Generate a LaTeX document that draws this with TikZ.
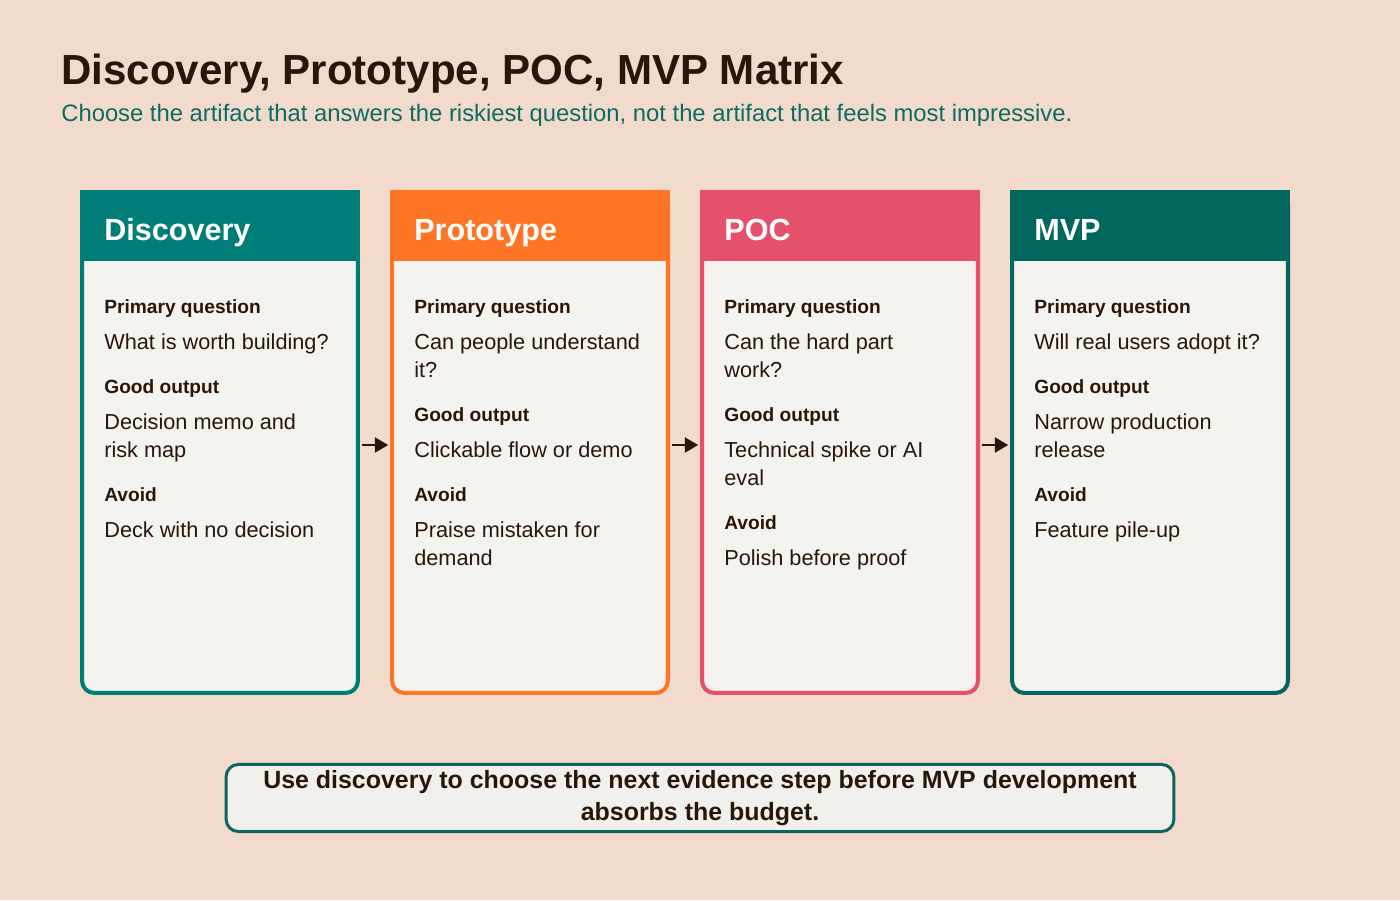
\documentclass[tikz,border=0pt]{standalone}
\usepackage{fontspec}
\setmainfont{Liberation Sans}
\usetikzlibrary{arrows.meta,positioning}
\definecolor{peach}{RGB}{242,218,205}
\definecolor{paper}{RGB}{245,243,239}
\definecolor{teal}{RGB}{0,125,118}
\definecolor{orange}{RGB}{255,117,38}
\definecolor{rose}{RGB}{229,80,106}
\definecolor{pine}{RGB}{0,102,94}
\definecolor{ink}{RGB}{42,22,8}
\definecolor{subink}{RGB}{12,108,98}
\definecolor{noteline}{RGB}{15,100,95}
\definecolor{notefill}{RGB}{242,240,236}
\tikzset{
  >={Triangle[length=2.7mm,width=3mm]},
  card/.style={draw=#1,fill=paper,line width=2.3pt,rounded corners=7pt,
    minimum width=5.52cm,minimum height=10.02cm,inner sep=0pt},
  card/.default=teal,
  head/.style={fill=#1,minimum width=5.6cm,minimum height=1.42cm,inner sep=0pt},
  head/.default=teal,
  headtext/.style={anchor=base west,inner sep=0pt,text=white,
    font=\fontsize{17.4}{20}\selectfont\bfseries},
  lbl/.style={anchor=base west,inner sep=0pt,text=ink,
    font=\fontsize{10.9}{13}\selectfont\bfseries},
  txt/.style={anchor=base west,inner sep=0pt,text=ink,
    font=\fontsize{12.35}{15}\selectfont},
  flow/.style={->,line width=1.4pt,draw=ink,shorten <=1pt,shorten >=1pt},
  note/.style={draw=noteline,fill=notefill,line width=1.7pt,rounded corners=7pt,
    minimum width=18.96cm,minimum height=1.2cm,align=center,text=ink,
    font=\fontsize{14.2}{18.2}\selectfont\bfseries},
}

\begin{document}
\begin{tikzpicture}[x=0.02cm,y=-0.02cm]
    \fill[peach] (0,0) rectangle (1400,900);
    \useasboundingbox (0,0) rectangle (1400,900);
    % title
    \node[anchor=base west,inner sep=0pt,text=ink,font=\fontsize{23.95}{28}\selectfont\bfseries] (title) at (61,84)
      {Discovery, Prototype, POC, MVP Matrix};
    \node[anchor=base west,inner sep=0pt,text=subink,font=\fontsize{13.55}{16}\selectfont] (sub) at (61,121)
      {Choose the artifact that answers the riskiest question, not the artifact that feels most impressive.};
    % cards
    \node[card=teal] (disc) at (220,442.5) {};
    \node[card=orange] (proto) at (530,442.5) {};
    \node[card=rose] (poc) at (840,442.5) {};
    \node[card=pine] (mvp) at (1150,442.5) {};
    \node[head=teal] (disch) at (220,225.5) {};
    \node[head=orange] (protoh) at (530,225.5) {};
    \node[head=rose] (poch) at (840,225.5) {};
    \node[head=pine] (mvph) at (1150,225.5) {};
    \node[headtext] (disct) at (104,240) {Discovery};
    \node[headtext] (protot) at (414,240) {Prototype};
    \node[headtext] (poct) at (724,240) {POC};
    \node[headtext] (mvpt) at (1034,240) {MVP};
    % discovery
    \node[lbl] (dq) at (104,313) {Primary question};
    \node[txt] (dq1) at (104,349) {What is worth building?};
    \node[lbl] (do) at (104,393) {Good output};
    \node[txt] (do1) at (104,429) {Decision memo and};
    \node[txt] (do2) at (104,457) {risk map};
    \node[lbl] (da) at (104,501) {Avoid};
    \node[txt] (da1) at (104,537) {Deck with no decision};
    % prototype
    \node[lbl] (pq) at (414,313) {Primary question};
    \node[txt] (pq1) at (414,349) {Can people understand};
    \node[txt] (pq2) at (414,377) {it?};
    \node[lbl] (po) at (414,421) {Good output};
    \node[txt] (po1) at (414,457) {Clickable flow or demo};
    \node[lbl] (pa) at (414,501) {Avoid};
    \node[txt] (pa1) at (414,537) {Praise mistaken for};
    \node[txt] (pa2) at (414,565) {demand};
    % poc
    \node[lbl] (cq) at (724,313) {Primary question};
    \node[txt] (cq1) at (724,349) {Can the hard part};
    \node[txt] (cq2) at (724,377) {work?};
    \node[lbl] (co) at (724,421) {Good output};
    \node[txt] (co1) at (724,457) {Technical spike or AI};
    \node[txt] (co2) at (724,485) {eval};
    \node[lbl] (ca) at (724,529) {Avoid};
    \node[txt] (ca1) at (724,565) {Polish before proof};
    % mvp
    \node[lbl] (mq) at (1034,313) {Primary question};
    \node[txt] (mq1) at (1034,349) {Will real users adopt it?};
    \node[lbl] (mo) at (1034,393) {Good output};
    \node[txt] (mo1) at (1034,429) {Narrow production};
    \node[txt] (mo2) at (1034,457) {release};
    \node[lbl] (ma) at (1034,501) {Avoid};
    \node[txt] (ma1) at (1034,537) {Feature pile-up};
    % arrows
    \draw[flow] ([yshift=-0.05cm]disc.east) -- ([yshift=-0.05cm]proto.west);
    \draw[flow] ([yshift=-0.05cm]proto.east) -- ([yshift=-0.05cm]poc.west);
    \draw[flow] ([yshift=-0.05cm]poc.east) -- ([yshift=-0.05cm]mvp.west);
    % takeaway
    \node[note] (take) at (700,798)
      {Use discovery to choose the next evidence step before MVP development\\absorbs the budget.};
\end{tikzpicture}
\end{document}
